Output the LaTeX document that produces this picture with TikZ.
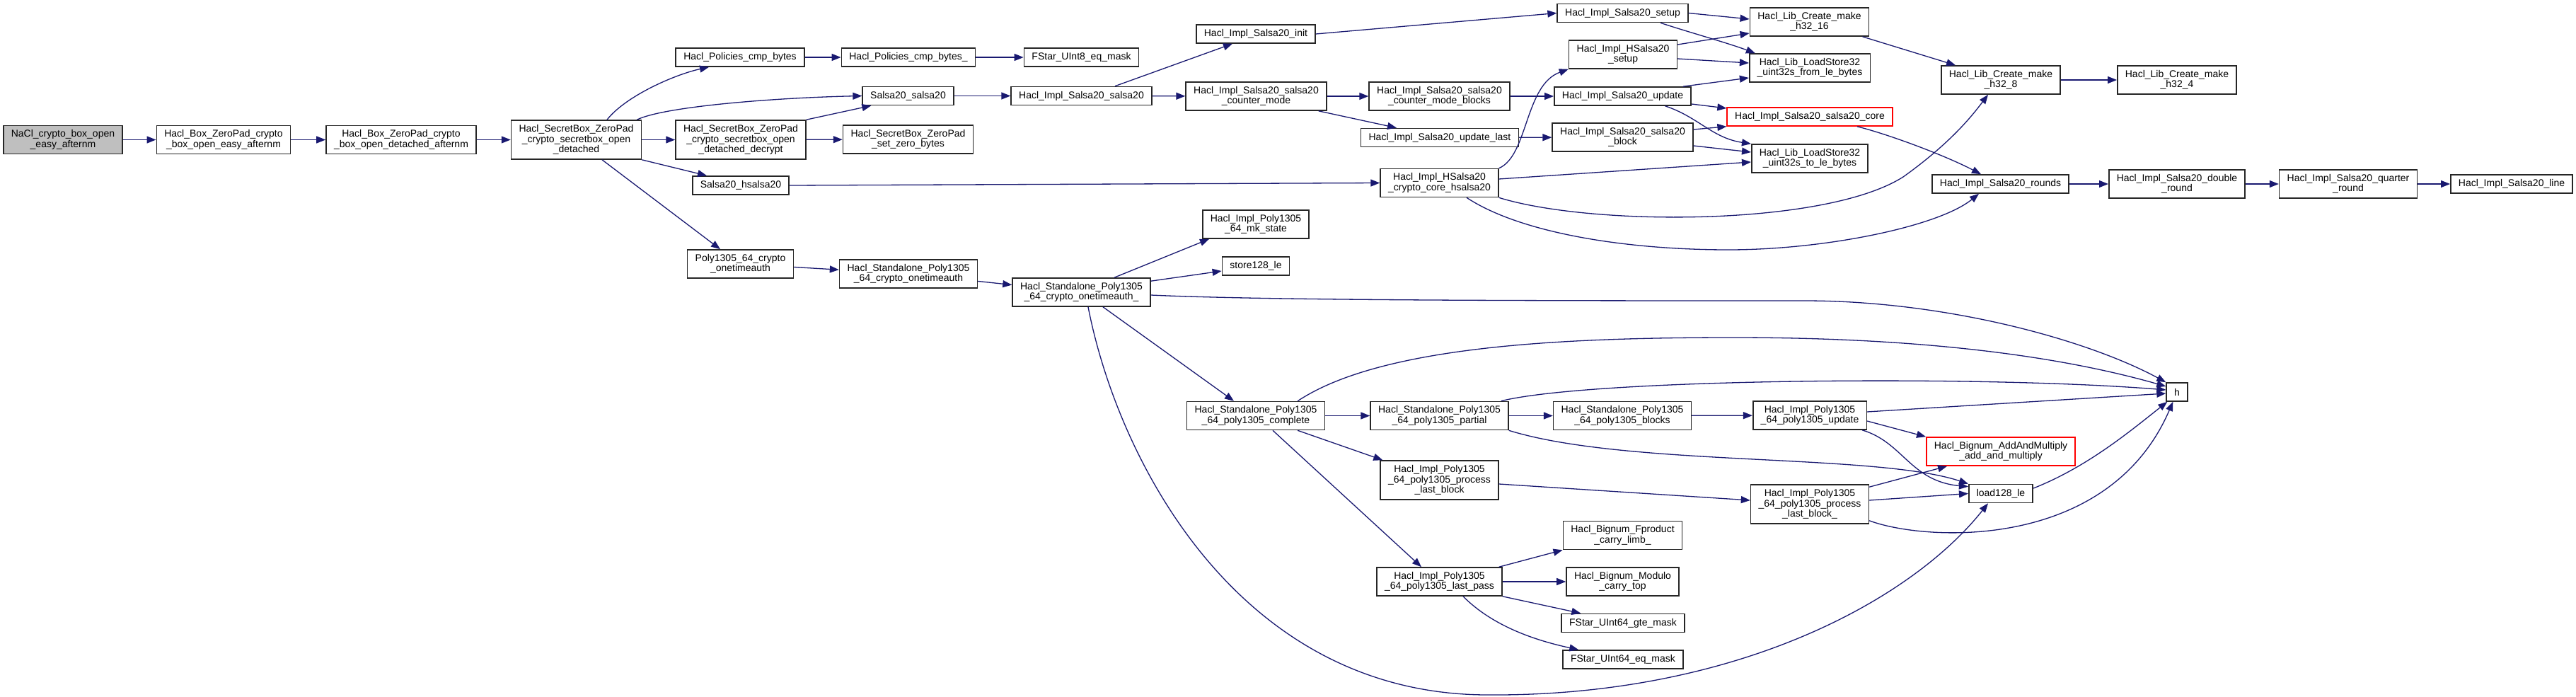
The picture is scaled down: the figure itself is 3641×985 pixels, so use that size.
\documentclass[tikz,border=0pt]{standalone}
\usepackage{fontspec}
\setmainfont{Liberation Sans}
\usepackage{xcolor}
\usepackage{tikz}
\usetikzlibrary{arrows.meta}
\definecolor{edgeblue}{HTML}{191970}
\definecolor{rootgray}{HTML}{BFBFBF}

\begin{document}
\begin{tikzpicture}[x=0.5pt, y=-0.5pt,
  fn/.style={rectangle, draw=black!85, line width=0.8pt, fill=white, align=center,
    inner xsep=5.5pt, inner ysep=2pt, minimum height=13pt,
    font=\fontsize{7pt}{7.2pt}\selectfont},
  fntwo/.style={fn, minimum height=20pt},
  fnthree/.style={fn, minimum height=27.5pt},
  rootfn/.style={fill=rootgray},
  cutfn/.style={draw=red},
  call/.style={draw=edgeblue, line width=0.65pt, -{Triangle[length=6.5pt, width=5pt]}}]
  \useasboundingbox (0,0) rectangle (3641,985);

  % Entry chain
  \node[fntwo, rootfn] (nacl) at (89,197.5) {NaCl\_crypto\_box\_open\\\_easy\_afternm};
  \node[fntwo] (boxeasy) at (316,197.5) {Hacl\_Box\_ZeroPad\_crypto\\\_box\_open\_easy\_afternm};
  \node[fntwo] (boxdet) at (567,197.5) {Hacl\_Box\_ZeroPad\_crypto\\\_box\_open\_detached\_afternm};
  \node[fnthree] (secretbox) at (814.5,197.5) {Hacl\_SecretBox\_ZeroPad\\\_crypto\_secretbox\_open\\\_detached};

  % Salsa20 side
  \node[fn] (cmpbytes) at (1046,81) {Hacl\_Policies\_cmp\_bytes};
  \node[fn] (cmpbytesu) at (1284,81) {Hacl\_Policies\_cmp\_bytes\_};
  \node[fn] (u8eq) at (1528.5,81) {FStar\_UInt8\_eq\_mask};
  \node[fn] (salsa) at (1283.5,135.5) {Salsa20\_salsa20};
  \node[fn] (implsalsa) at (1528.5,135.5) {Hacl\_Impl\_Salsa20\_salsa20};
  \node[fn] (init) at (1775,48) {Hacl\_Impl\_Salsa20\_init};
  \node[fntwo] (ctrmode) at (1775.5,136) {Hacl\_Impl\_Salsa20\_salsa20\\\_counter\_mode};
  \node[fnthree] (decrypt) at (1047,197.5) {Hacl\_SecretBox\_ZeroPad\\\_crypto\_secretbox\_open\\\_detached\_decrypt};
  \node[fntwo] (zerobytes) at (1283.5,197) {Hacl\_SecretBox\_ZeroPad\\\_set\_zero\_bytes};
  \node[fn] (hsalsa) at (1047,262) {Salsa20\_hsalsa20};
  \node[fn] (setup) at (2293.5,18.5) {Hacl\_Impl\_Salsa20\_setup};
  \node[fntwo] (h16) at (2557.5,31) {Hacl\_Lib\_Create\_make\\\_h32\_16};
  \node[fntwo] (hsetup) at (2294,77) {Hacl\_Impl\_HSalsa20\\\_setup};
  \node[fntwo] (fromle) at (2558,96) {Hacl\_Lib\_LoadStore32\\\_uint32s\_from\_le\_bytes};
  \node[fntwo] (ctrblocks) at (2034.5,136) {Hacl\_Impl\_Salsa20\_salsa20\\\_counter\_mode\_blocks};
  \node[fn] (update) at (2293.5,136) {Hacl\_Impl\_Salsa20\_update};
  \node[fn, cutfn] (core) at (2558,165) {Hacl\_Impl\_Salsa20\_salsa20\_core};
  \node[fn] (updlast) at (2035,194.5) {Hacl\_Impl\_Salsa20\_update\_last};
  \node[fntwo] (block) at (2293.5,194) {Hacl\_Impl\_Salsa20\_salsa20\\\_block};
  \node[fntwo] (tole) at (2558,224) {Hacl\_Lib\_LoadStore32\\\_uint32s\_to\_le\_bytes};
  \node[fntwo] (corehs) at (2034.5,258.5) {Hacl\_Impl\_HSalsa20\\\_crypto\_core\_hsalsa20};
  \node[fntwo] (h8) at (2828,113) {Hacl\_Lib\_Create\_make\\\_h32\_8};
  \node[fntwo] (h4) at (3077,113) {Hacl\_Lib\_Create\_make\\\_h32\_4};
  \node[fn] (rounds) at (2827.5,260) {Hacl\_Impl\_Salsa20\_rounds};
  \node[fntwo] (dround) at (3077,260) {Hacl\_Impl\_Salsa20\_double\\\_round};
  \node[fntwo] (qround) at (3319,260) {Hacl\_Impl\_Salsa20\_quarter\\\_round};
  \node[fn] (line) at (3550,260) {Hacl\_Impl\_Salsa20\_line};

  % Poly1305 side
  \node[fntwo] (onetime) at (1046.5,373) {Poly1305\_64\_crypto\\\_onetimeauth};
  \node[fntwo] (sponetime) at (1284,387) {Hacl\_Standalone\_Poly1305\\\_64\_crypto\_onetimeauth};
  \node[fntwo] (sponetimeu) at (1528.5,413) {Hacl\_Standalone\_Poly1305\\\_64\_crypto\_onetimeauth\_};
  \node[fntwo] (mkstate) at (1775,317) {Hacl\_Impl\_Poly1305\\\_64\_mk\_state};
  \node[fn] (store) at (1775,376) {store128\_le};
  \node[fntwo] (complete) at (1775,587.5) {Hacl\_Standalone\_Poly1305\\\_64\_poly1305\_complete};
  \node[fntwo] (partial) at (2034.5,587.5) {Hacl\_Standalone\_Poly1305\\\_64\_poly1305\_partial};
  \node[fntwo] (blocks) at (2293,587.5) {Hacl\_Standalone\_Poly1305\\\_64\_poly1305\_blocks};
  \node[fnthree] (lastblock) at (2034.5,678.5) {Hacl\_Impl\_Poly1305\\\_64\_poly1305\_process\\\_last\_block};
  \node[fntwo] (lastpass) at (2034.5,822) {Hacl\_Impl\_Poly1305\\\_64\_poly1305\_last\_pass};
  \node[fntwo] (fproduct) at (2293.5,756.5) {Hacl\_Bignum\_Fproduct\\\_carry\_limb\_};
  \node[fntwo] (modulo) at (2293.5,822) {Hacl\_Bignum\_Modulo\\\_carry\_top};
  \node[fn] (gte) at (2294,880.5) {FStar\_UInt64\_gte\_mask};
  \node[fn] (eqmask) at (2294,932) {FStar\_UInt64\_eq\_mask};
  \node[fntwo] (pupdate) at (2558,587) {Hacl\_Impl\_Poly1305\\\_64\_poly1305\_update};
  \node[fntwo, cutfn] (addmul) at (2828,638) {Hacl\_Bignum\_AddAndMultiply\\\_add\_and\_multiply};
  \node[fn] (load) at (2828,697.5) {load128\_le};
  \node[fnthree] (lastblocku) at (2558,712.5) {Hacl\_Impl\_Poly1305\\\_64\_poly1305\_process\\\_last\_block\_};
  \node[fn] (h) at (3077,554) {h};

  % Calls: entry chain
  \draw[call] (nacl) -- (boxeasy);
  \draw[call] (boxeasy) -- (boxdet);
  \draw[call] (boxdet) -- (secretbox);
  \draw[call] ([xshift=21.75pt]secretbox.north) .. controls (885,135) and (955,105) .. ([xshift=-22pt]cmpbytes.south);
  \draw[call] ([xshift=-3.5pt]secretbox.north east) .. controls (940,150) and (1100,138) .. (salsa.west);
  \draw[call] (secretbox) -- (decrypt);
  \draw[call] (secretbox.south east) -- ([xshift=10.5pt]hsalsa.north west);
  \draw[call] ([xshift=18.25pt]secretbox.south) -- ([xshift=-14.25pt]onetime.north);

  % Calls: Salsa20 side
  \draw[call] (cmpbytes) -- (cmpbytesu);
  \draw[call] (cmpbytesu) -- (u8eq);
  \draw[call] (decrypt.north east) -- ([xshift=6.5pt]salsa.south west);
  \draw[call] (decrypt) -- (zerobytes);
  \draw[call] (salsa) -- (implsalsa);
  \draw[call] ([xshift=23.75pt]implsalsa.north) -- ([xshift=-16.5pt]init.south);
  \draw[call] (implsalsa) -- (ctrmode);
  \draw[call] (init.east) -- (setup.west);
  \draw[call] (ctrmode) -- (ctrblocks);
  \draw[call] ([xshift=-6pt]ctrmode.south east) -- ([xshift=-30.5pt]updlast.north);
  \draw[call] (ctrblocks) -- (update);
  \draw[call] (updlast) -- (block);
  \draw[call] (setup.east) -- ([yshift=2pt]h16.west);
  \draw[call] ([xshift=26.75pt]setup.south) .. controls (2385,45) and (2440,60) .. ([xshift=4.5pt]fromle.north west);
  \draw[call] ([yshift=7pt]hsetup.east) -- ([yshift=-8pt]h16.west);
  \draw[call] ([yshift=-3pt]hsetup.east) -- ([yshift=3.5pt]fromle.west);
  \draw[call] ([xshift=-6pt]update.north east) -- ([yshift=-7pt]fromle.west);
  \draw[call] ([yshift=-5.5pt]update.east) -- ([yshift=6pt]core.west);
  \draw[call] ([xshift=30pt]update.south) .. controls (2400,165) and (2420,195) .. (tole.north west);
  \draw[call] ([yshift=5.5pt]block.east) -- (core.south west);
  \draw[call] ([yshift=-6pt]block.east) -- ([yshift=4.5pt]tole.west);
  \draw[call] (hsalsa.east) -- (corehs.west);
  \draw[call] (corehs.north east) .. controls (2160,220) and (2155,120) .. (hsetup.south west);
  \draw[call] ([yshift=2.75pt]corehs.east) -- ([yshift=-2.5pt]tole.west);
  \draw[call] (corehs.south east) .. controls (2250,320) and (2580,320) .. (2690,250)
    .. controls (2760,200) and (2790,160) .. ([xshift=-9pt]h8.south);
  \draw[call] ([xshift=19.25pt]corehs.south) .. controls (2150,330) and (2300,353) .. (2443,353)
    .. controls (2580,353) and (2740,320) .. ([xshift=-15.25pt]rounds.south);
  \draw[call] ([xshift=-5pt]h16.south east) -- ([xshift=10.5pt]h8.north west);
  \draw[call] (h8) -- (h4);
  \draw[call] ([xshift=33.5pt]core.south) .. controls (2670,190) and (2750,220) .. ([xshift=-13.75pt]rounds.north);
  \draw[call] (rounds) -- (dround);
  \draw[call] (dround) -- (qround);
  \draw[call] (qround) -- (line);

  % Calls: Poly1305 side
  \draw[call] (onetime) -- (sponetime);
  \draw[call] (sponetime) -- (sponetimeu);
  \draw[call] ([xshift=23.25pt]sponetimeu.north) -- ([xshift=5pt]mkstate.south west);
  \draw[call] ([yshift=-2.5pt]sponetimeu.north east) -- ([yshift=-3.5pt]store.west);
  \draw[call] ([yshift=-2pt]sponetimeu.east) .. controls (1800,425) and (2200,425) .. (2550,425)
    .. controls (2750,425) and (2950,480) .. (h.north west);
  \draw[call] ([xshift=15.25pt]sponetimeu.south) -- ([xshift=-15.5pt]complete.north);
  \draw[call] ([xshift=4.75pt]sponetimeu.south) .. controls (1580,650) and (1750,980) .. (2100,982)
    .. controls (2450,985) and (2700,850) .. ([xshift=-9pt]load.south);
  \draw[call] ([xshift=-19.5pt]complete.north east) .. controls (1950,490) and (2200,477) .. (2450,477)
    .. controls (2700,477) and (2900,500) .. ([yshift=4pt]h.west);
  \draw[call] (complete) -- (partial);
  \draw[call] ([xshift=-19.5pt]complete.south east) -- ([xshift=2pt]lastblock.north west);
  \draw[call] ([xshift=12pt]complete.south) -- ([xshift=-12.75pt]lastpass.north);
  \draw[call] (partial) -- (blocks);
  \draw[call] ([xshift=-5.5pt]partial.north east) .. controls (2250,535) and (2800,530) .. ([yshift=1.5pt]h.west);
  \draw[call] (partial.south east) .. controls (2300,660) and (2650,640) .. (load.north west);
  \draw[call] (blocks) -- (pupdate);
  \draw[call] ([yshift=2.5pt]pupdate.east) -- ([yshift=-1pt]h.west);
  \draw[call] ([yshift=-4pt]pupdate.east) -- (addmul.north west);
  \draw[call] ([xshift=-3.5pt]pupdate.south east) .. controls (2690,625) and (2700,680) .. ([yshift=-2pt]load.north west);
  \draw[call] ([yshift=-2.75pt]lastblock.east) -- ([yshift=2.75pt]lastblocku.west);
  \draw[call] ([yshift=-2pt]lastblocku.north east) -- ([xshift=15pt]addmul.south west);
  \draw[call] ([yshift=2.75pt]lastblocku.east) -- (load.west);
  \draw[call] ([yshift=2.5pt]lastblocku.south east) .. controls (2720,765) and (2980,780) .. ([xshift=5pt]h.south west);
  \draw[call] ([yshift=3.75pt]load.east) .. controls (2950,660) and (3010,610) .. ([xshift=1pt]h.south west);
  \draw[call] ([xshift=-2.5pt]lastpass.north east) -- (fproduct.south west);
  \draw[call] (lastpass) -- (modulo);
  \draw[call] (lastpass.south east) -- ([xshift=14pt]gte.north west);
  \draw[call] ([xshift=16.75pt]lastpass.south) .. controls (2110,885) and (2170,905) .. ([xshift=11.5pt]eqmask.north west);
\end{tikzpicture}
\end{document}
